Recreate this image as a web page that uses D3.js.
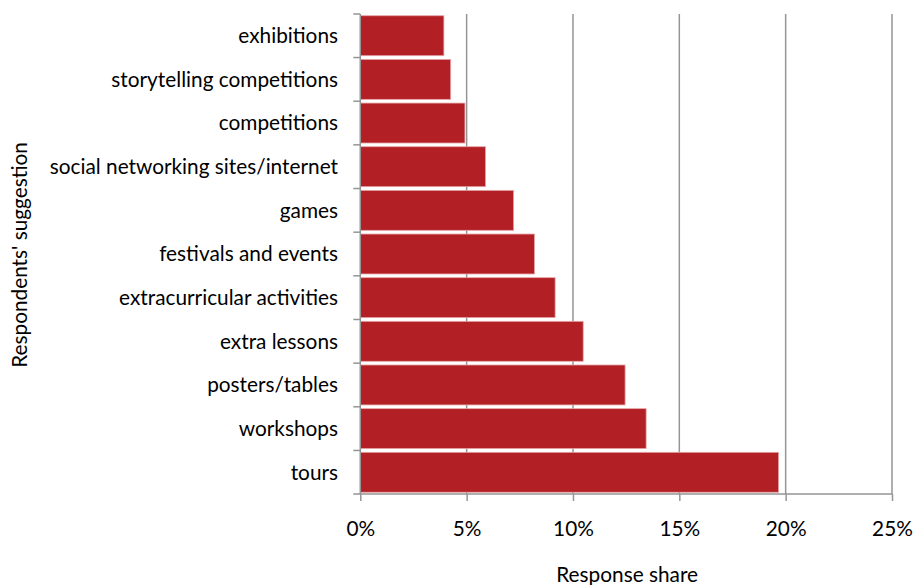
<!DOCTYPE html>
<html><head><meta charset="utf-8">
<script src="https://cdn.jsdelivr.net/npm/d3@7"></script>
<style>body{margin:0;background:#fff}svg{display:block}text{font-family:Lato,sans-serif;fill:#000}</style>
</head><body><svg id="c" width="913" height="585"></svg>
<script>
const categories = ["exhibitions","storytelling competitions","competitions","social networking sites/internet","games","festivals and events","extracurricular activities","extra lessons","posters/tables","workshops","tours"];
const values = [3.93,4.25,4.92,5.89,7.21,8.19,9.16,10.48,12.45,13.44,19.67];
const xTicks = [0,5,10,15,20,25];
const xTickLabels = ["0%","5%","10%","15%","20%","25%"];
const xTitle = "Response share";
const yTitle = "Respondents' suggestion";

const svg = d3.select("#c");
const L = 360.3, R = 892, T = 14, B = 494;
const FS = 20.8;
const x = d3.scaleLinear().domain([0,25]).range([L,R]);
const y = d3.scaleBand().domain(categories).range([T,B]).paddingInner(0.085).paddingOuter(0.04);
const gray = "#959595";

// gridlines
svg.append("g").selectAll("line").data(xTicks.slice(1)).join("line")
  .attr("x1",d=>x(d)).attr("x2",d=>x(d)).attr("y1",T).attr("y2",B)
  .attr("stroke",gray).attr("stroke-width",1.5);

// bars
svg.append("g").selectAll("rect").data(values).join("rect")
  .attr("x",x(0)).attr("y",(d,i)=>y(categories[i]))
  .attr("width",d=>x(d)-x(0)).attr("height",y.bandwidth())
  .attr("fill","#b21f25").attr("stroke","#e6a5a8").attr("stroke-width",0.8);

// x axis
const xa = svg.append("g").attr("transform",`translate(0,${B})`)
  .call(d3.axisBottom(x).tickValues(xTicks).tickFormat((d,i)=>xTickLabels[i]).tickSize(7).tickPadding(20));
xa.select(".domain").attr("stroke",gray).attr("stroke-width",1.5).attr("d",`M${L},0H${R}`);
xa.selectAll(".tick line").attr("stroke",gray).attr("stroke-width",1.5);
xa.selectAll(".tick text").attr("font-size",FS).style("font-family","Lato,sans-serif");

// y axis
svg.append("line").attr("x1",L).attr("x2",L).attr("y1",T).attr("y2",B).attr("stroke",gray).attr("stroke-width",1.5);
svg.append("g").selectAll("line").data([T].concat(categories.slice(1).map(c=>y(c)-(y.step()-y.bandwidth())/2)).concat([B])).join("line")
  .attr("x1",L-7).attr("x2",L).attr("y1",d=>d).attr("y2",d=>d).attr("stroke",gray).attr("stroke-width",1.5);
svg.append("g").selectAll("text").data(categories).join("text")
  .attr("x",338).attr("y",d=>y(d)+y.bandwidth()/2).attr("dy","0.35em")
  .attr("text-anchor","end").attr("font-size",FS).text(d=>d);

// titles
svg.append("text").attr("x",(L+R)/2+1).attr("y",582).attr("text-anchor","middle").attr("font-size",FS).text(xTitle);
svg.append("text").attr("transform","translate(27,255) rotate(-90)").attr("text-anchor","middle").attr("font-size",FS).text(yTitle);
</script></body></html>
